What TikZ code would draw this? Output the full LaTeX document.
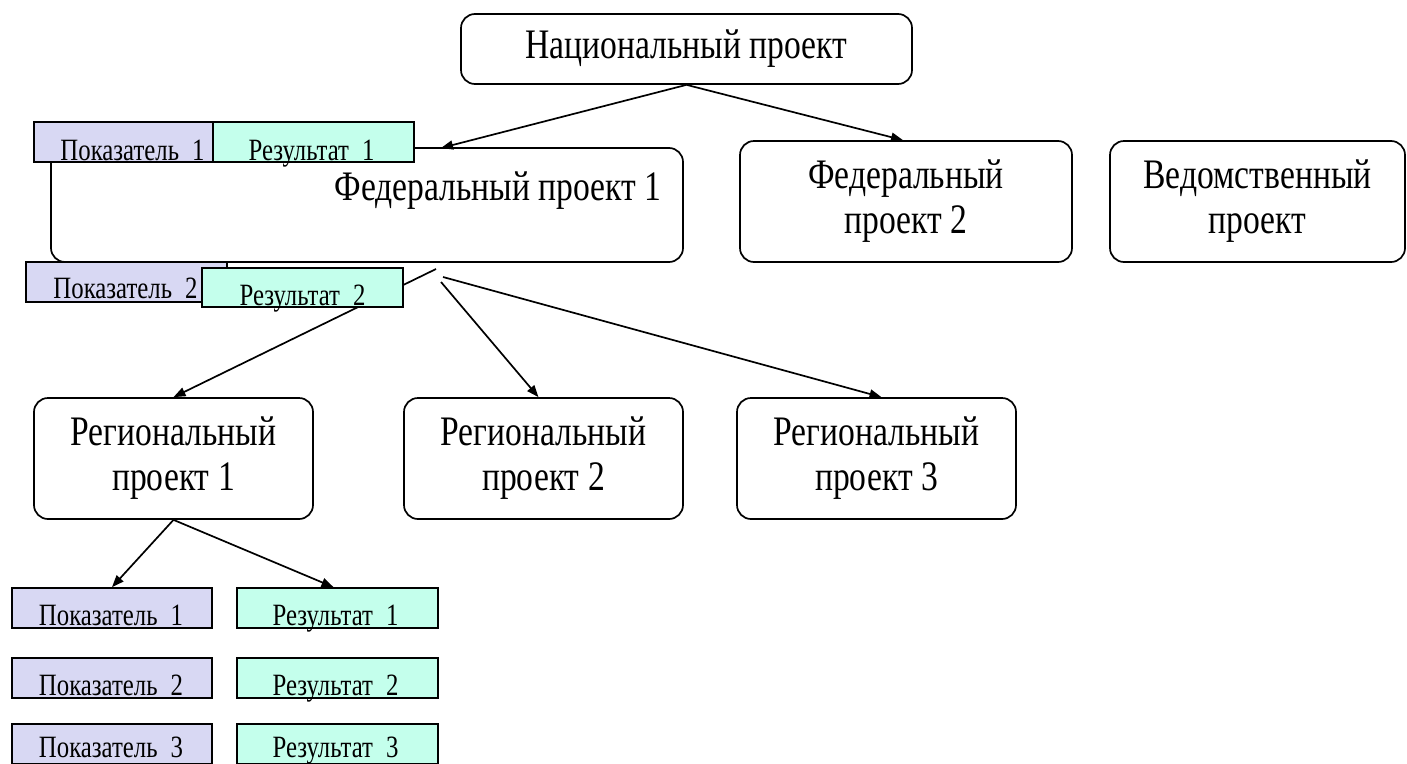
\documentclass[tikz,border=0pt]{standalone}
\usepackage{fontspec}
\setmainfont{Liberation Serif}[FakeStretch=0.8]
\usetikzlibrary{arrows.meta}
\definecolor{pokfill}{RGB}{216,216,243}
\definecolor{resfill}{RGB}{196,255,236}
\newcommand{\gp}{\hspace{0.42em}}
\begin{document}
\begin{tikzpicture}[x=1pt,y=-1pt,
  big/.style={draw=black, line width=1.7pt, rounded corners=14pt, fill=white, inner sep=0pt, align=center, font=\fontsize{42}{45}\selectfont},
  pok/.style={draw=black, line width=1.7pt, fill=pokfill, inner sep=0pt, minimum height=40pt},
  res/.style={draw=black, line width=1.7pt, fill=resfill, inner sep=0pt, minimum height=40pt},
  lbl/.style={anchor=base, inner sep=0pt, font=\fontsize{31}{33}\selectfont},
  biglbl/.style={anchor=base, inner sep=0pt, font=\fontsize{42}{45}\selectfont},
  conn/.style={line width=1.7pt, -{Triangle[length=12pt,width=9pt]}}]
\useasboundingbox[fill=white] (0,0) rectangle (1407,763);

% top level
\node[big, minimum width=451pt, minimum height=70pt] (nat) at (686.5,49) {Национальный проект};
\node[big, minimum width=632pt, minimum height=114pt] (f1) at (367,205) {};
\node[biglbl] (f1t) at (498,200) {Федеральный проект 1};
\node[big, minimum width=332pt, minimum height=121pt] (f2) at (906,201.5) {Федеральный\\проект 2};
\node[big, minimum width=295pt, minimum height=121pt] (ved) at (1257.5,201.5) {Ведомственный\\проект};

% regional level
\node[big, minimum width=279pt, minimum height=121pt] (r1) at (173.5,458.5) {Региональный\\проект 1};
\node[big, minimum width=279pt, minimum height=121pt] (r2) at (543.5,458.5) {Региональный\\проект 2};
\node[big, minimum width=279pt, minimum height=121pt] (r3) at (876.5,458.5) {Региональный\\проект 3};

% connector end points
\coordinate (f1in) at (441,148);
\coordinate (f1oa) at (436,269);
\coordinate (f1ob) at (441,282);
\coordinate (f1oc) at (443,277);

\draw[conn] (nat.south) -- (f1in);
\draw[conn] (nat.south) -- ([xshift=-3pt]f2.north);
\draw[conn] (f1oa) -- (r1.north);
\draw[conn] (f1ob) -- ([xshift=-5pt]r2.north);
\draw[conn] (f1oc) -- ([xshift=5pt]r3.north);

% federal indicator boxes
\node[pok, minimum width=179pt] (pt1) at (123.5,142) {};
\node[res, minimum width=201pt] (rt1) at (313.5,142) {};
\node[lbl] at (132.5,160) {Показатель\gp 1};
\node[lbl] at (311.5,160) {Результат\gp 1};
\node[pok, minimum width=201pt] (pt2) at (126.5,282) {};
\node[lbl] at (125.5,298) {Показатель\gp 2};
\node[res, minimum width=201pt, minimum height=39pt] (rt2) at (302.5,287.5) {};
\node[lbl] at (302.5,305) {Результат\gp 2};

% regional indicator boxes
\node[pok, minimum width=200pt] (p1) at (112,608) {};
\node[res, minimum width=201pt] (q1) at (337.5,608) {};
\node[pok, minimum width=200pt] (p2) at (112,678) {};
\node[res, minimum width=201pt] (q2) at (337.5,678) {};
\node[pok, minimum width=200pt] (p3) at (112,744) {};
\node[res, minimum width=201pt] (q3) at (337.5,744) {};
\draw[conn] (r1.south) -- (p1.north);
\draw[conn] (r1.south) -- ([xshift=-4pt]q1.north);
\node[lbl] at (111,625) {Показатель\gp 1};
\node[lbl] at (335.5,625) {Результат\gp 1};
\node[lbl] at (111,695) {Показатель\gp 2};
\node[lbl] at (335.5,695) {Результат\gp 2};
\node[lbl] at (111,757) {Показатель\gp 3};
\node[lbl] at (335.5,757) {Результат\gp 3};
\end{tikzpicture}
\end{document}
